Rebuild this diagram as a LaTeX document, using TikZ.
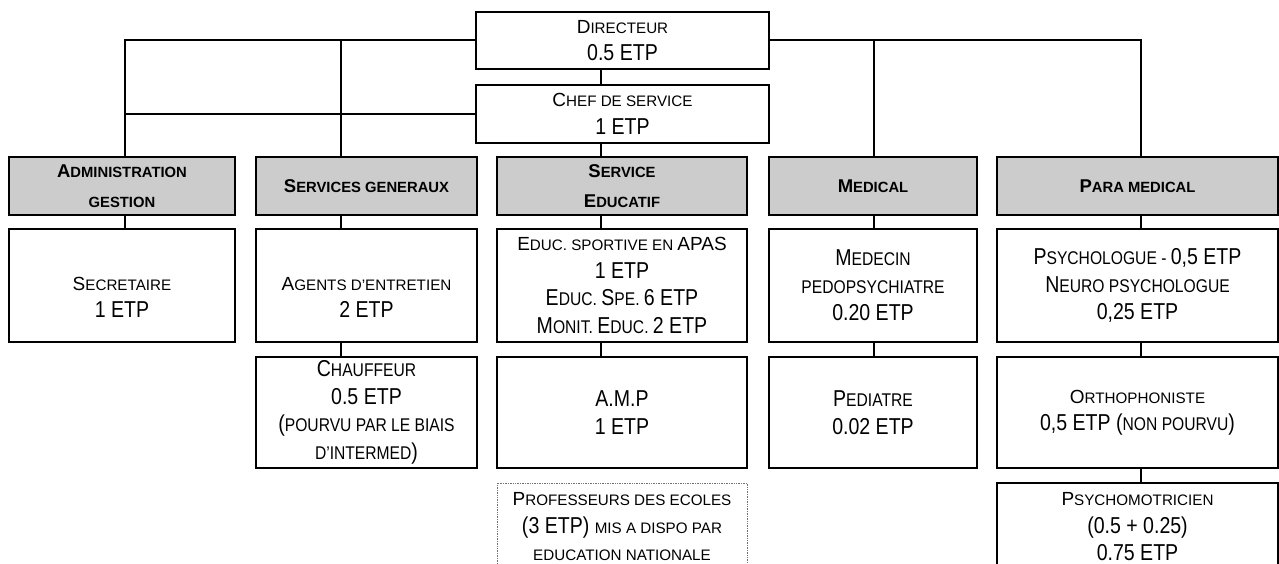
\documentclass[tikz,border=0pt]{standalone}
\usepackage{fontspec}
\setmainfont{Liberation Sans}
\newfontfamily\narrowsans[FakeStretch=0.85]{Liberation Sans}
% fake small capitals: full-size capitals and reduced capitals
\newcommand\capS{\rmfamily\fontsize{19}{27.5}\selectfont}
\newcommand\scS{\rmfamily\fontsize{15.2}{27.5}\selectfont}
\newcommand\capL{\narrowsans\fontsize{23}{27.5}\selectfont}
\newcommand\scL{\narrowsans\fontsize{18.4}{27.5}\selectfont}
\newcommand\capH{\rmfamily\bfseries\fontsize{18.5}{30}\selectfont}
\newcommand\scH{\rmfamily\bfseries\fontsize{14.8}{30}\selectfont}
\tikzset{
  box/.style={draw=black, line width=2pt, rectangle, inner sep=0pt,
    align=center, font=\capS, fill=white},
  head/.style={box, fill=black!20, font=\capH},
  lent/.style={draw=black!55, line width=0.7pt, densely dotted, rectangle,
    inner sep=0pt, align=center, font=\capS},
  conn/.style={draw=black, line width=2pt},
}
\begin{document}
\begin{tikzpicture}[x=1pt, y=-1pt]
\useasboundingbox (0,0) rectangle (1279,564);
\fill[white] (0,0) rectangle (1279,564);
\begin{scope}
\clip (0,0) rectangle (1279,564);

% direction
\node[box, minimum width=293pt, minimum height=57pt] (dir) at (622.5,40.5)
  {\capS D\scS IRECTEUR\\\capL 0.5 ETP};
\node[box, minimum width=293pt, minimum height=58pt] (chef) at (622.5,114)
  {\capS C\scS HEF DE SERVICE\\\capL 1 ETP};

% services
\node[head, minimum width=226pt, minimum height=58pt] (adm) at (122,186)
  {\capH A\scH DMINISTRATION\\\scH GESTION};
\node[head, minimum width=221pt, minimum height=58pt] (sg) at (366.5,186)
  {\capH S\scH ERVICES GENERAUX};
\node[head, minimum width=250pt, minimum height=58pt] (se) at (622,186)
  {\capH S\scH ERVICE\\\capH E\scH DUCATIF};
\node[head, minimum width=208pt, minimum height=58pt] (med) at (873,186)
  {\capH M\scH EDICAL};
\node[head, minimum width=281pt, minimum height=58pt] (pm) at (1137.5,186)
  {\capH P\scH ARA MEDICAL};

% first row of posts
\node[box, minimum width=226pt, minimum height=113pt] (sec) at (122,285.5)
  {\rule{0pt}{9pt}\\\capS S\scS ECRETAIRE\\\capL 1 ETP};
\node[box, minimum width=221pt, minimum height=113pt] (agents) at (366.5,285.5)
  {\rule{0pt}{9pt}\\\capS A\scS GENTS D’ENTRETIEN\\\capL 2 ETP};
\node[box, minimum width=250pt, minimum height=113pt] (educ) at (622,285.5)
  {\capS E\scS DUC. SPORTIVE EN \capS APAS\\
   \capL 1 ETP\\
   \capL E\scL DUC. \capL S\scL PE. \capL 6 ETP\\
   \capL M\scL ONIT. \capL E\scL DUC. \capL 2 ETP};
\node[box, minimum width=208pt, minimum height=113pt] (medecin) at (873,285.5)
  {\capL M\scL EDECIN\\\scL PEDOPSYCHIATRE\\\capL 0.20 ETP};
\node[box, minimum width=281pt, minimum height=113pt] (psy) at (1137.5,285.5)
  {\capL P\scL SYCHOLOGUE - \capL 0,5 ETP\\
   \capL N\scL EURO PSYCHOLOGUE\\
   \capL 0,25 ETP};

% second row of posts
\node[box, minimum width=221pt, minimum height=111pt] (chauf) at (366.5,412.5)
  {\capL C\scL HAUFFEUR\\\capL 0.5 ETP\\
   \capL (\scL POURVU PAR LE BIAIS\\\scL D’INTERMED\capL )};
\node[box, minimum width=250pt, minimum height=111pt] (amp) at (622,412.5)
  {\capL A.M.P\\\capL 1 ETP};
\node[box, minimum width=208pt, minimum height=111pt] (ped) at (873,412.5)
  {\capL P\scL EDIATRE\\\capL 0.02 ETP};
\node[box, minimum width=281pt, minimum height=111pt] (ortho) at (1137.5,412.5)
  {\capS O\scS RTHOPHONISTE\\\capL 0,5 ETP (\scL NON POURVU\capL )};

% third row of posts
\node[lent, minimum width=250pt, minimum height=88pt] (prof) at (622,527)
  {\capS P\scS ROFESSEURS DES ECOLES\\
   \capL (3 ETP) \scS MIS A DISPO PAR\\
   \scS EDUCATION NATIONALE};
\node[box, minimum width=281pt, minimum height=88pt] (psymot) at (1137.5,527)
  {\capS P\scS SYCHOMOTRICIEN\\\capL (0.5 + 0.25)\\\capL 0.75 ETP};

% branch positions
\coordinate (xa) at (125,0);
\coordinate (xb) at (341,0);
\coordinate (xc) at (601,0);
\coordinate (xd) at (874,0);
\coordinate (xe) at (1141,0);

% links from the direction
\draw[conn] (dir.west) -| (xa |- adm.north);
\draw[conn] (chef.west) -- (xa |- chef.west);
\draw[conn] (xb |- dir.west) -- (xb |- sg.north);
\draw[conn] (dir.east) -| (xe |- pm.north);
\draw[conn] (xd |- dir.east) -- (xd |- med.north);
\draw[conn] (xc |- dir.south) -- (xc |- chef.north);
\draw[conn] (xc |- chef.south) -- (xc |- se.north);

% links inside each service
\draw[conn] (xa |- adm.south) -- (xa |- sec.north);
\draw[conn] (xb |- sg.south) -- (xb |- agents.north);
\draw[conn] (xc |- se.south) -- (xc |- educ.north);
\draw[conn] (xd |- med.south) -- (xd |- medecin.north);
\draw[conn] (xe |- pm.south) -- (xe |- psy.north);
\draw[conn] (xb |- agents.south) -- (xb |- chauf.north);
\draw[conn] (xc |- educ.south) -- (xc |- amp.north);
\draw[conn] (xd |- medecin.south) -- (xd |- ped.north);
\draw[conn] (xe |- psy.south) -- (xe |- ortho.north);
\draw[conn] (xe |- ortho.south) -- (xe |- psymot.north);
\end{scope}
\end{tikzpicture}
\end{document}
